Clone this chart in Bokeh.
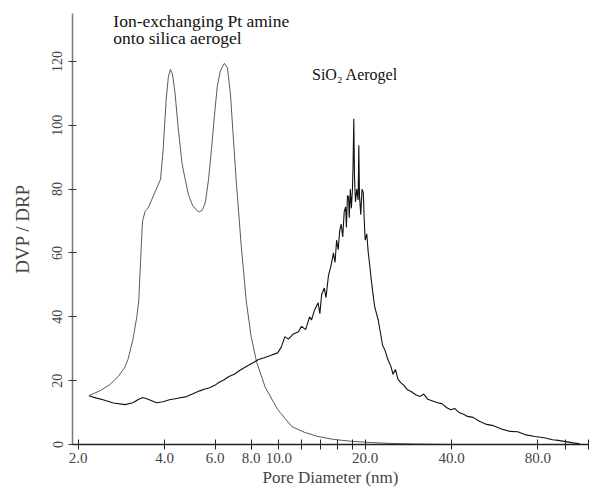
from bokeh.plotting import figure
from bokeh.models import FixedTicker, Range1d, Label
from bokeh.embed import file_html
from bokeh.resources import INLINE

# Pt amine ion-exchanged onto silica aerogel (thin grey curve)
pt_x = [2.18, 2.4, 2.58, 2.75, 2.9, 2.98, 3.1, 3.2, 3.25, 3.3, 3.35, 3.42, 3.5, 3.58,
        3.7, 3.87, 3.95, 4.05, 4.12, 4.19, 4.26, 4.35, 4.45, 4.6, 4.72, 4.85, 5.0,
        5.15, 5.28, 5.42, 5.55, 5.69, 5.82, 5.95, 6.1, 6.25, 6.46, 6.62, 6.78, 6.92,
        7.1, 7.4, 7.7, 8.0, 8.36, 8.96, 9.9, 11.1, 12.3, 13.7, 15.5, 17.9, 21.0,
        25.0, 30.0, 40.0]
pt_y = [15.3, 17.0, 18.8, 21.2, 24.0, 26.6, 32.8, 40.0, 45.0, 58.0, 70.0, 73.0, 74.0,
        76.0, 79.0, 83.0, 92.0, 108.0, 115.0, 117.5, 116.0, 110.0, 100.0, 88.0, 83.0,
        78.0, 75.0, 73.5, 72.8, 73.5, 76.0, 83.0, 92.0, 102.0, 112.0, 117.0, 119.4,
        118.0, 110.0, 98.0, 83.0, 62.0, 45.0, 34.0, 26.0, 18.0, 11.0, 5.6, 3.8, 2.5,
        1.6, 1.0, 0.6, 0.3, 0.15, 0.0]

# SiO2 aerogel (noisy black curve)
si_x = [2.18, 2.3, 2.44, 2.65, 2.91, 3.1, 3.25, 3.36, 3.5, 3.75, 3.95, 4.16, 4.45, 4.77,
        5.0, 5.3, 5.5, 5.74, 6.0, 6.2, 6.45, 6.7, 7.0, 7.3, 7.7, 8.1, 8.5, 8.9, 9.3,
        9.9, 10.2, 10.5, 10.8, 11.2, 11.7, 12.0, 12.4, 12.8, 13.0, 13.3, 13.7, 13.9,
        14.1, 14.4, 14.6, 14.9, 15.2, 15.5, 15.7, 15.9, 16.1, 16.3, 16.5, 16.7, 16.9,
        17.1, 17.2, 17.35, 17.5, 17.6, 17.75, 17.9, 18.05, 18.15, 18.25, 18.35, 18.5,
        18.7, 18.9, 19.0, 19.1, 19.3, 19.5, 19.7, 19.85, 20.0, 20.25, 20.5, 20.75,
        21.0, 21.3, 21.6, 22.2, 22.6, 23.0, 23.4, 24.0, 24.6, 25.0, 25.5, 26.0, 26.6,
        27.3, 28.0, 29.0, 30.0, 31.0, 32.0, 33.0, 34.0, 35.7, 37.0, 38.5, 39.8, 41.0,
        42.5, 44.0, 45.5, 47.5, 50.0, 53.0, 56.0, 60.0, 64.0, 68.0, 72.0, 78.0, 84.0,
        90.0, 94.0, 100.0, 106.0, 112.0]
si_y = [15.3, 14.6, 14.0, 13.0, 12.5, 13.1, 14.2, 14.7, 14.2, 13.1, 13.4, 14.0, 14.5,
        15.0, 15.8, 16.8, 17.3, 17.8, 18.6, 19.5, 20.3, 21.3, 22.0, 23.2, 24.4, 25.5,
        26.6, 27.2, 27.8, 28.7, 30.5, 33.8, 33.0, 34.5, 35.3, 37.0, 36.0, 40.0, 39.0,
        42.0, 44.4, 41.0, 47.0, 49.0, 46.0, 53.0, 56.0, 60.0, 57.0, 64.0, 61.0, 67.0,
        69.0, 65.0, 73.0, 74.4, 68.0, 78.0, 77.5, 71.0, 80.0, 74.0, 79.7, 88.0, 102.0,
        84.0, 76.0, 80.0, 76.6, 93.7, 78.0, 72.0, 80.0, 78.8, 70.0, 64.0, 66.0, 60.0,
        56.0, 51.6, 47.0, 43.0, 39.0, 35.0, 31.0, 29.7, 26.6, 24.4, 22.0, 23.5, 20.5,
        19.4, 18.5, 17.2, 16.5, 15.6, 15.0, 15.8, 14.2, 13.8, 13.1, 12.8, 11.5, 10.9,
        11.3, 10.0, 9.5, 8.8, 8.5, 7.3, 6.3, 5.9, 4.8, 4.1, 4.0, 3.1, 2.5, 2.1, 1.5,
        1.3, 0.9, 0.5, 0.2]

x_ticks = [2, 4, 6, 8, 10, 12, 14, 16, 18, 20, 40, 80, 100, 120]
x_tick_labels = {2: "2.0", 4: "4.0", 6: "6.0", 8: "8.0", 10: "10.0", 12: "", 14: "",
                 16: "", 18: "", 20: "20.0", 40: "40.0", 80: "80.0", 100: "", 120: ""}
y_ticks = [0, 20, 40, 60, 80, 100, 120]

FONT = "Liberation Serif"

p = figure(width=590, height=489, x_axis_type="log", output_backend="svg",
           toolbar_location=None, x_range=Range1d(1.91, 120), y_range=Range1d(0, 135),
           min_border_left=72, min_border_right=2, min_border_top=13, min_border_bottom=44)
p.outline_line_color = None
p.xgrid.visible = False
p.ygrid.visible = False

p.line(pt_x, pt_y, line_color="#5a5a5a", line_width=1.0)
p.line(si_x, si_y, line_color="#111111", line_width=1.1)

xa = p.xaxis[0]
xa.ticker = FixedTicker(ticks=x_ticks, minor_ticks=[])
xa.major_label_overrides = x_tick_labels
xa.axis_label = "Pore Diameter (nm)"
xa.axis_label_text_font = FONT
xa.axis_label_text_font_style = "normal"
xa.axis_label_text_font_size = "17px"
xa.axis_label_standoff = 2
xa.major_label_text_font = FONT
xa.major_label_text_font_size = "15px"
xa.major_label_standoff = 3
xa.axis_line_color = "#222222"
xa.axis_line_width = 1.5
xa.major_tick_line_color = "#222222"
xa.major_tick_in = 5
xa.major_tick_out = 5

ya = p.yaxis[0]
ya.ticker = FixedTicker(ticks=y_ticks, minor_ticks=[])
ya.axis_label = "DVP / DRP"
ya.axis_label_text_font = FONT
ya.axis_label_text_font_style = "normal"
ya.axis_label_text_font_size = "19px"
ya.axis_label_standoff = 17
ya.major_label_text_font = FONT
ya.major_label_text_font_size = "14px"
ya.major_label_orientation = "vertical"
ya.major_label_standoff = 6
ya.axis_line_color = "#7a7a7a"
ya.axis_line_width = 1.5
ya.major_tick_line_color = "#333333"
ya.major_tick_in = 4
ya.major_tick_out = 4

p.add_layout(Label(x=2.65, y=135.8, text="Ion-exchanging Pt amine", text_font=FONT,
                   text_font_size="17.5px", text_baseline="top", text_color="#111111"))
p.add_layout(Label(x=2.65, y=130.6, text="onto silica aerogel", text_font=FONT,
                   text_font_size="17.5px", text_baseline="top", text_color="#111111"))
p.add_layout(Label(x=13.05, y=118.5, text="SiO\u2082 Aerogel", text_font=FONT,
                   text_font_size="16px", text_baseline="top", text_color="#111111"))

open("out.html", "w").write(file_html(p, INLINE))
